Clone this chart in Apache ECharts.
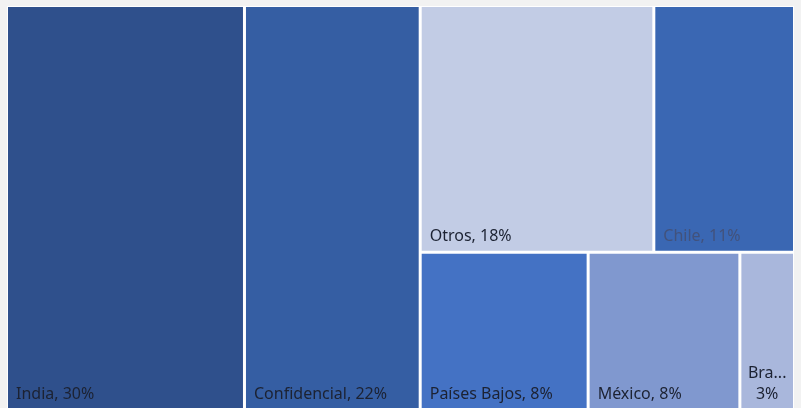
<!DOCTYPE html>
<html lang="es">
<head>
    <meta charset="UTF-8">
    <title>Treemap</title>
    <script src="https://cdn.jsdelivr.net/npm/echarts@6/dist/echarts.min.js"></script>
</head>
<body style="margin:0;background:#f2f2f2;">
<div id="chart" style="width:801px;height:408px;"></div>
<script type="text/javascript">

    var names = ['India', 'Confidencial', 'Otros', 'Chile', 'Países Bajos', 'México', 'Brasil'];
    var values = [30.2, 22.3, 18.1, 10.9, 8.3, 7.5, 2.7];
    var colors = ['#2f508c', '#355ea3', '#c2cce5', '#3a67b3', '#4472c4', '#8098cf', '#a9b7dc'];

    var data = [];
    for (var i = 0; i < names.length; i++) {
        var item = {name: names[i], value: values[i], itemStyle: {color: colors[i]}};
        if (names[i] == 'Chile') {
            item.label = {color: '#42527c'};
        }
        // celda estrecha: nombre cortado y centrado en dos lineas
        if (values[i] < 5) {
            item.label = {position: 'insideBottom', align: 'center', lineHeight: 21, padding: [0, 0, 3, 0]};
        }
        data.push(item);
    }

    var myChart = echarts.init(document.getElementById('chart'));

    var option = {
        backgroundColor: '#f2f2f2',
        animation: false,
        series: [
            {
                type: 'treemap',
                left: 7,
                top: 6,
                width: 787,
                height: 403,
                roam: false,
                nodeClick: false,
                squareRatio: 0.862,
                breadcrumb: {show: false},
                itemStyle: {borderWidth: 0, gapWidth: 0, borderColor: '#fff'},
                levels: [
                    {itemStyle: {borderWidth: 1, gapWidth: 3, borderColor: '#fff'}},
                    {itemStyle: {borderWidth: 0}}
                ],
                label: {
                    show: true,
                    position: 'insideBottomLeft',
                    distance: 0,
                    padding: [0, 0, 6, 8],
                    color: '#1c2232',
                    fontFamily: 'Noto Sans',
                    fontSize: 16,
                    lineHeight: 16,
                    formatter: function (p) {
                        var pct = Math.round(p.value) + '%';
                        if (p.value < 5) {
                            return p.name.slice(0, 3) + '...\n' + pct;
                        }
                        return p.name + ', ' + pct;
                    }
                },
                emphasis: {disabled: true},
                data: data
            }
        ]
    };

    myChart.setOption(option);
</script>
</body>
</html>
